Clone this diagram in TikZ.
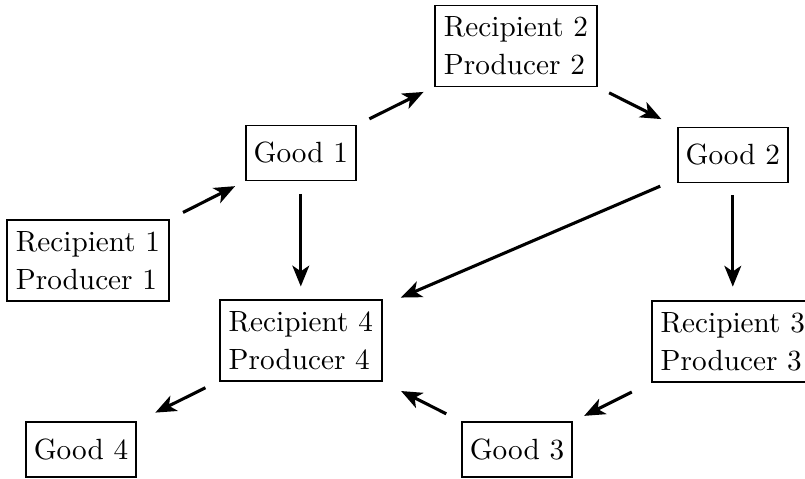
\documentclass[tikz,border=0pt]{standalone}
\usetikzlibrary{arrows.meta}

\begin{document}
\begin{tikzpicture}[
  agent/.style={draw, line width=0.5pt, align=left, inner sep=1pt,
    minimum width=2.025cm, minimum height=1.0125cm,
    font=\fontsize{10.4}{13.5}\selectfont},
  good/.style={draw, line width=0.5pt, inner sep=1pt,
    minimum width=1.375cm, minimum height=0.6875cm,
    font=\fontsize{10.4}{13.5}\selectfont},
  flow/.style={line width=1.1pt, -{Stealth[length=2.6mm,width=2.1mm,inset=0.7mm]}}
]
\useasboundingbox (0,0) rectangle (10.0625,5.9875);

% agents
\node[agent] (rp1) at (1.1,2.731) {Recipient 1\\Producer 1};
\node[agent] (rp2) at (6.45,5.4125) {Recipient 2\\Producer 2};
\node[agent] (rp3) at (9.16,1.719) {Recipient 3\\Producer 3};
\node[agent] (rp4) at (3.76,1.731) {Recipient 4\\Producer 4};

% goods
\node[good] (g1) at (3.76,4.075) {Good 1};
\node[good] (g2) at (9.16,4.05) {Good 2};
\node[good] (g3) at (6.4625,0.369) {Good 3};
\node[good] (g4) at (1.0125,0.369) {Good 4};


\draw[flow, shorten <=0.19cm, shorten >=0.14cm] (rp1) -- (g1);
\draw[flow, shorten <=0.18cm, shorten >=0.15cm] (g1) -- (rp2);
\draw[flow, shorten <=0.16cm, shorten >=0.22cm] (rp2) -- (g2);

\draw[flow, shorten <=0.16cm, shorten >=0.16cm] (g1) -- (rp4);
\draw[flow, shorten <=0.23cm, shorten >=0.25cm] (g2) -- (rp4);
\draw[flow, shorten <=0.15cm, shorten >=0.17cm] (g2) -- (rp3);

\draw[flow, shorten <=0.27cm, shorten >=0.16cm] (rp3) -- (g3);
\draw[flow, shorten <=0.21cm, shorten >=0.26cm] (g3) -- (rp4);
\draw[flow, shorten <=0.19cm, shorten >=0.26cm] (rp4) -- (g4);

\end{tikzpicture}
\end{document}
